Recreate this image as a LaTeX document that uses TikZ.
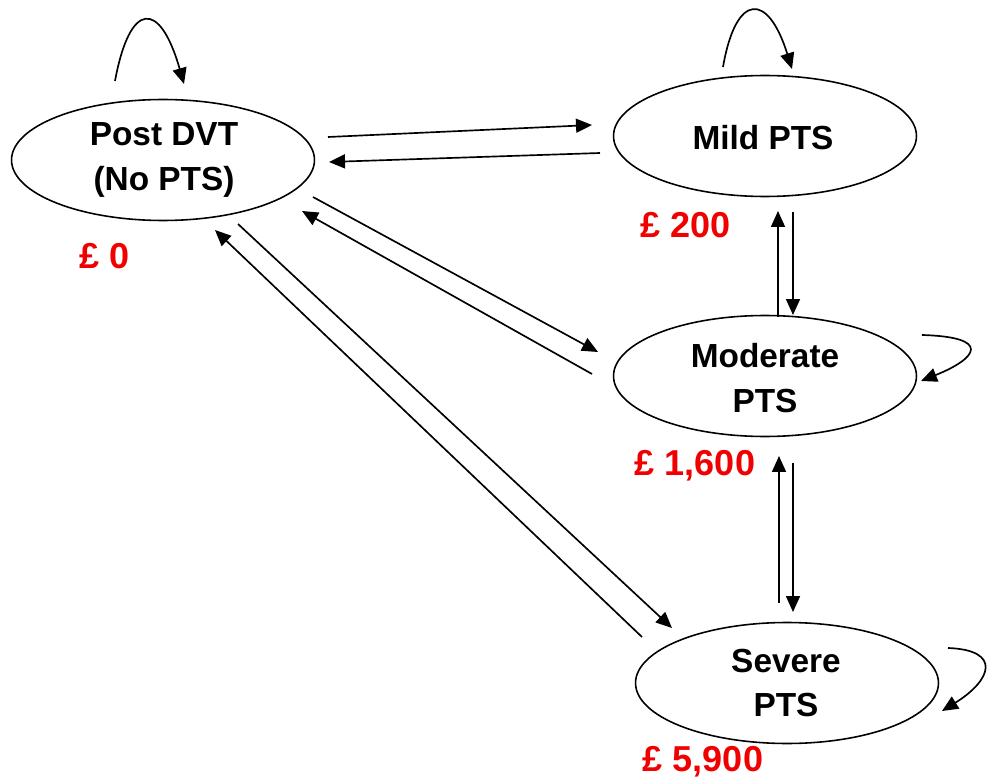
\documentclass[tikz,border=0pt]{standalone}
\usepackage{fontspec}
\setmainfont{Liberation Sans}
\usetikzlibrary{shapes.geometric,arrows.meta}
\definecolor{labred}{RGB}{240,0,0}
\tikzset{
  state/.style={draw=black, line width=0.9pt, ellipse, inner sep=0pt,
    minimum width=6.06cm, minimum height=2.42cm},
  statetext/.style={font=\fontsize{19}{25.5}\selectfont\bfseries, align=center, inner sep=0pt},
  cost/.style={font=\fontsize{20.5}{24}\selectfont\bfseries, text=labred, inner sep=0pt},
  arr/.style={line width=0.95pt, -{Triangle[length=3.2mm,width=2.8mm]}},
}
\begin{document}
\begin{tikzpicture}[x=0.02cm,y=-0.02cm]
\useasboundingbox (0,0) rectangle (988,777);
% states
\node[state] (post) at (163,160) {};
\node[state] (mild) at (765,136) {};
\node[state] (mod) at (765,376) {};
\node[state] (sev) at (787,683) {};
\node[statetext] (postt) at (164,160) {Post DVT\\(No PTS)};
\node[statetext] (mildt) at (763,138) {Mild PTS};
\node[statetext] (modt) at (765,378) {Moderate\\PTS};
\node[statetext] (sevt) at (786,683) {Severe\\PTS};
% costs
\node[cost] (c0) at (105,256) {£ 0};
\node[cost] (c1) at (686,225) {£ 200};
\node[cost] (c2) at (695,466) {£ 1,600};
\node[cost] (c3) at (703,762) {£ 5,900};
% connector end points
\coordinate (pm1) at (328,137); \coordinate (pm2) at (592,125);
\coordinate (mp1) at (600,153); \coordinate (mp2) at (329,162);
\coordinate (pd1) at (313,197); \coordinate (pd2) at (598,352);
\coordinate (dp1) at (592,374); \coordinate (dp2) at (302,211);
\coordinate (ps1) at (238,224); \coordinate (ps2) at (672,628);
\coordinate (sp1) at (642,637); \coordinate (sp2) at (215,230);
\coordinate (md1) at (778,317); \coordinate (md2) at (778,211);
\coordinate (dm1) at (793,212); \coordinate (dm2) at (793,315);
\coordinate (ds1) at (779,603); \coordinate (ds2) at (779,456);
\coordinate (sd1) at (793,463); \coordinate (sd2) at (793,612);
\draw[arr] (pm1) -- (pm2);
\draw[arr] (mp1) -- (mp2);
\draw[arr] (pd1) -- (pd2);
\draw[arr] (dp1) -- (dp2);
\draw[arr] (ps1) -- (ps2);
\draw[arr] (sp1) -- (sp2);
\draw[arr] (md1) -- (md2);
\draw[arr] (dm1) -- (dm2);
\draw[arr] (ds1) -- (ds2);
\draw[arr] (sd1) -- (sd2);
% self loops
\coordinate (lp1) at (115,81); \coordinate (lp2) at (184,84);
\coordinate (lm1) at (723,67); \coordinate (lm2) at (792,69);
\coordinate (ld1) at (922,335); \coordinate (ld2) at (921,381);
\coordinate (ls1) at (948,648); \coordinate (ls2) at (942,711);
\draw[arr] (lp1) .. controls (130,0) and (160,0) .. (lp2);
\draw[arr] (lm1) .. controls (736,-8) and (768,-8) .. (lm2);
\draw[arr] (ld1) .. controls (992,337) and (978,358) .. (ld2);
\draw[arr] (ls1) .. controls (1002,650) and (992,680) .. (ls2);
\end{tikzpicture}
\end{document}
